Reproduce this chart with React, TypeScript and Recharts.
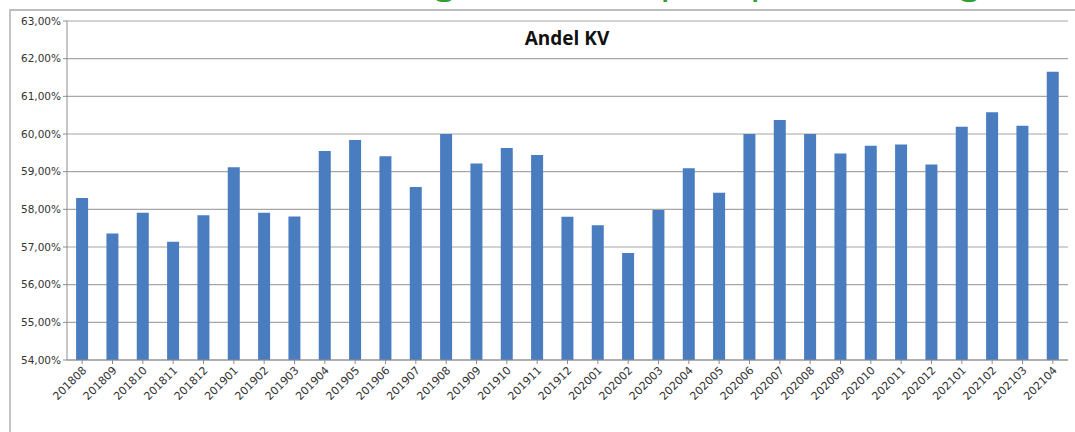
import { Bar, BarChart, CartesianGrid, XAxis, YAxis } from "recharts";

const months = [
  "201808", "201809", "201810", "201811", "201812",
  "201901", "201902", "201903", "201904", "201905", "201906",
  "201907", "201908", "201909", "201910", "201911", "201912",
  "202001", "202002", "202003", "202004", "202005", "202006",
  "202007", "202008", "202009", "202010", "202011", "202012",
  "202101", "202102", "202103", "202104",
];

const andelKV = [
  58.3, 57.36, 57.91, 57.14, 57.84,
  59.12, 57.91, 57.81, 59.55, 59.84, 59.41,
  58.59, 60.0, 59.22, 59.63, 59.44, 57.8,
  57.58, 56.84, 57.98, 59.09, 58.44, 60.0,
  60.37, 60.0, 59.48, 59.69, 59.72, 59.19,
  60.19, 60.58, 60.22, 61.65,
];

const yTicks = [54, 55, 56, 57, 58, 59, 60, 61, 62, 63];

// green heading above the chart, only the descenders are visible
const headingGlyphs = [
  { ch: "g", x: 433 },
  { ch: "p", x: 660 },
  { ch: "p", x: 750 },
  { ch: "g", x: 958 },
];

const data = months.map((m, i) => ({ month: m, value: andelKV[i] }));

const font = "'DejaVu Sans', Verdana, sans-serif";

function MonthTick({ x, y, payload }: any) {
  return (
    <text
      x={x + 5}
      y={y + 5}
      textAnchor="end"
      transform={`rotate(-45, ${x + 5}, ${y + 5})`}
      fontSize={11}
      fontFamily={font}
      fill="#333"
    >
      {payload.value}
    </text>
  );
}

export default function App() {
  return (
    <div style={{ position: "absolute", left: 0, top: 0, width: 1075, height: 432, background: "#fff", overflow: "hidden" }}>
      <svg width={1075} height={12} style={{ position: "absolute", left: 0, top: 0 }}>
        {headingGlyphs.map((g, i) => (
          <text key={i} x={g.x} y={-8} fontSize={40} fontFamily="'Noto Sans', sans-serif" fill="#2f9e32">
            {g.ch}
          </text>
        ))}
      </svg>
      <div
        style={{
          position: "absolute",
          left: 9,
          top: 9,
          width: 1066,
          height: 423,
          borderTop: "2px solid #bdbdbd",
          borderLeft: "2px solid #c4c4c4",
        }}
      />
      <div style={{ position: "absolute", left: 0, top: 0 }}>
        <BarChart
          width={1075}
          height={432}
          data={data}
          margin={{ top: 21, right: 7, bottom: 12, left: 10 }}
          barCategoryGap="30%"
        >
          <CartesianGrid horizontal vertical={false} stroke="#a6a6a6" strokeWidth={1.2} />
          <XAxis
            dataKey="month"
            interval={0}
            height={60}
            tick={<MonthTick />}
            tickLine={{ stroke: "#8c8c8c" }}
            tickSize={4}
            axisLine={{ stroke: "#8c8c8c" }}
          />
          <YAxis
            domain={[54, 63]}
            ticks={yTicks}
            width={57}
            interval={0}
            tickSize={4}
            tickLine={{ stroke: "#8c8c8c" }}
            axisLine={{ stroke: "#8c8c8c" }}
            tick={{ fontSize: 10.5, fill: "#333", fontFamily: font }}
            tickFormatter={(v) => `${v.toFixed(2).replace(".", ",")}%`}
          />
          <Bar dataKey="value" fill="#4a7dc0" isAnimationActive={false} />
          <text x={567} y={45} textAnchor="middle" fontSize={19} fontWeight="bold" fontFamily="'Open Sans', sans-serif" fill="#111">
            Andel KV
          </text>
        </BarChart>
      </div>
    </div>
  );
}
